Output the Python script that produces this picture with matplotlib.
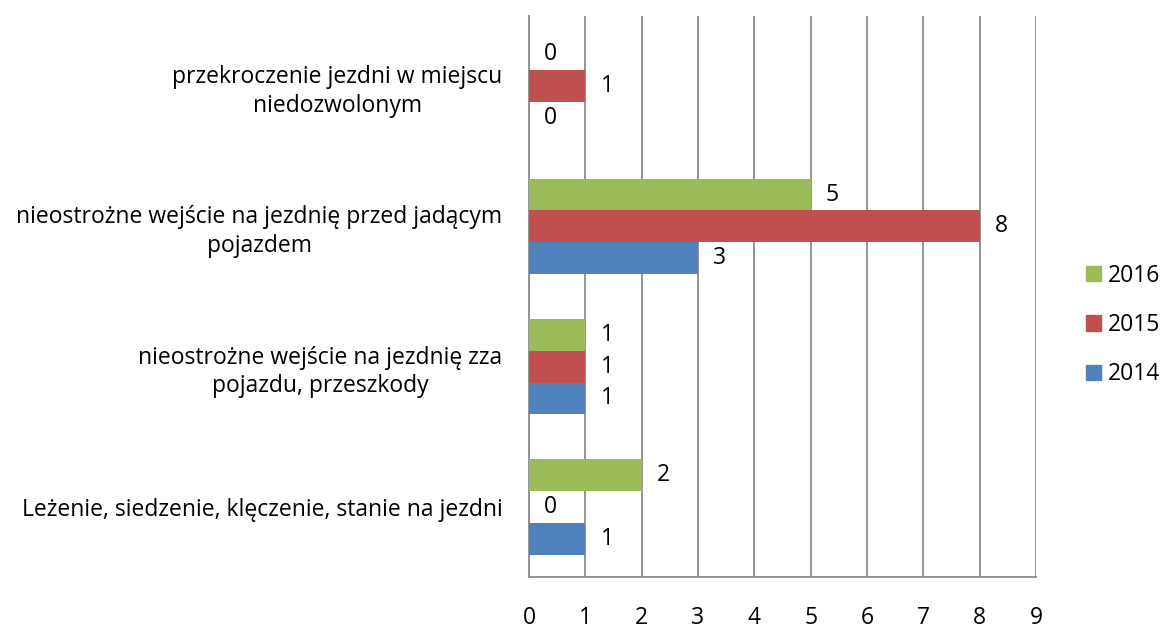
import matplotlib
matplotlib.use("Agg")
import matplotlib.pyplot as plt
import numpy as np
from matplotlib.patches import Patch

plt.rcParams["font.family"] = ["Open Sans", "DejaVu Sans"]

CATEGORIES = [
    "Leżenie, siedzenie, klęczenie, stanie na jezdni",
    "nieostrożne wejście na jezdnię zza\npojazdu, przeszkody",
    "nieostrożne wejście na jezdnię przed jadącym\npojazdem",
    "przekroczenie jezdni w miejscu\nniedozwolonym",
]
YEARS = ["2014", "2015", "2016"]
V2014 = [1, 1, 3, 0]
V2015 = [0, 1, 8, 1]
V2016 = [2, 1, 5, 0]
X_TICKS = list(range(0, 10))

COLORS = {"2014": "#4F81BD", "2015": "#C0504D", "2016": "#9BBB59"}
GRID = "#8C8C8C"
BAR_H = 0.227
FS = 16.5

fig = plt.figure(figsize=(11.65, 6.3), dpi=100)
ax = fig.add_axes([529 / 1165, 1 - 577 / 630, 507 / 1165, 561 / 630])

y = np.arange(len(CATEGORIES))
series = {"2014": V2014, "2015": V2015, "2016": V2016}
offsets = {"2014": -BAR_H, "2015": 0.0, "2016": BAR_H}
for yr in YEARS:
    vals = series[yr]
    bars = ax.barh(y + offsets[yr], vals, height=BAR_H, color=COLORS[yr], zorder=3)
    for b, v in zip(bars, vals):
        ax.annotate(str(v), (v, b.get_y() + b.get_height() / 2),
                    xytext=(11, 0), textcoords="offset points",
                    ha="left", va="center", fontsize=FS)

ax.set_xlim(0, 9)
ax.set_ylim(-0.5, len(CATEGORIES) - 0.5)
ax.set_xticks(X_TICKS)
ax.set_xticklabels([str(t) for t in X_TICKS], fontsize=FS)
ax.tick_params(axis="x", length=0, pad=21)
ax.set_yticks(y)
ax.set_yticklabels(CATEGORIES, fontsize=FS, multialignment="center",
                   linespacing=1.25)
ax.tick_params(axis="y", length=0, pad=19)
ax.grid(axis="x", color=GRID, lw=1.3, zorder=0)
for s in ["top", "right"]:
    ax.spines[s].set_visible(False)
for s in ["left", "bottom"]:
    ax.spines[s].set_color(GRID)
    ax.spines[s].set_linewidth(1.3)

handles = [Patch(color=COLORS[yr], label=yr) for yr in reversed(YEARS)]
fig.legend(handles=handles, loc="center left", bbox_to_anchor=(1086 / 1165, 1 - 325 / 630),
           frameon=False, fontsize=FS, handlelength=0.65, handleheight=0.65,
           handletextpad=0.3, labelspacing=1.1, borderpad=0, borderaxespad=0)

fig.savefig("out.png", dpi=100)
